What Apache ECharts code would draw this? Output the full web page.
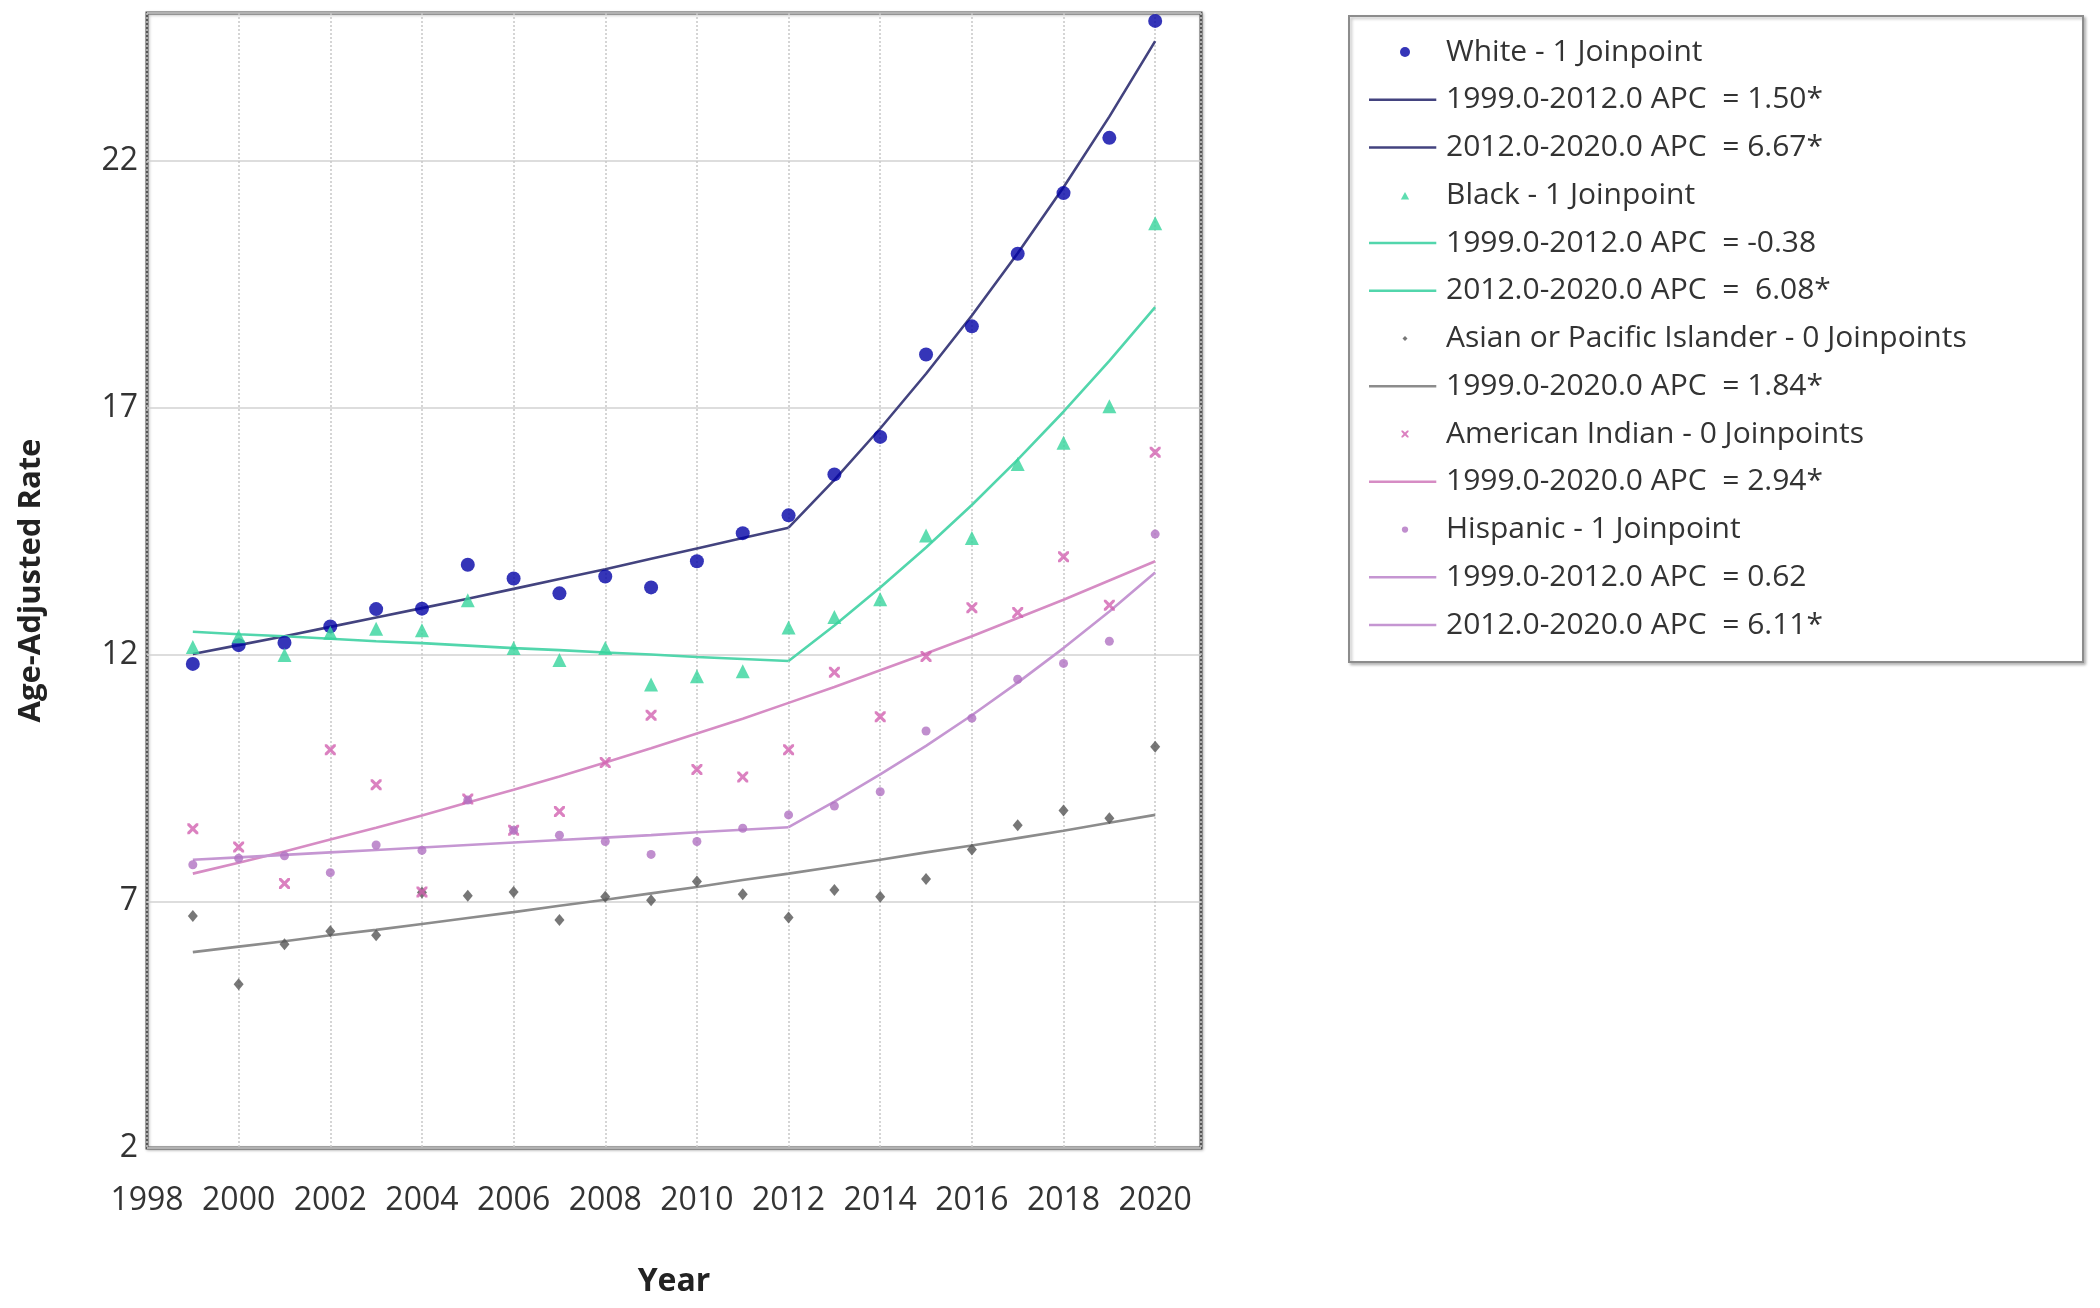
<!DOCTYPE html>
<html>
<head>
<meta charset="utf-8">
<title>Age-Adjusted Rate by race, joinpoint</title>
<style>
    html, body {margin: 0; padding: 0; background: #fff;}
    #main {width: 2100px; height: 1308px;}
</style>
</head>
<body>
<div id="main"></div>

<script src="https://cdn.jsdelivr.net/npm/echarts@6/dist/echarts.min.js"></script>
<script type="text/javascript">
    // observed rates, 1999 - 2020
    var years = [1999, 2000, 2001, 2002, 2003, 2004, 2005, 2006, 2007, 2008, 2009, 2010,
        2011, 2012, 2013, 2014, 2015, 2016, 2017, 2018, 2019, 2020];
    var whiteRate = [11.81, 12.19, 12.24, 12.57, 12.92, 12.93, 13.82, 13.54, 13.24, 13.58, 13.36, 13.89,
        14.46, 14.82, 15.65, 16.41, 18.08, 18.65, 20.12, 21.35, 22.47, 24.84];
    var blackRate = [12.15, 12.37, 11.99, 12.44, 12.52, 12.49, 13.10, 12.13, 11.89, 12.13, 11.39, 11.56,
        11.66, 12.55, 12.76, 13.12, 14.41, 14.36, 15.86, 16.29, 17.03, 20.74];
    var asianRate = [6.70, 5.32, 6.13, 6.39, 6.31, 7.18, 7.11, 7.19, 6.62, 7.09, 7.02, 7.40,
        7.14, 6.67, 7.23, 7.09, 7.45, 8.05, 8.54, 8.84, 8.68, 10.13];
    var amIndRate = [8.47, 8.10, 7.36, 10.07, 9.36, 7.19, 9.07, 8.44, 8.82, 9.81, 10.77, 9.67,
        9.52, 10.07, 11.64, 10.74, 11.96, 12.95, 12.85, 13.98, 13.00, 16.10];
    var hispRate = [7.74, 7.87, 7.92, 7.58, 8.14, 8.03, 9.05, 8.44, 8.34, 8.21, 7.95, 8.21,
        8.48, 8.75, 8.93, 9.22, 10.45, 10.71, 11.50, 11.82, 12.27, 14.44];

    // modelled (joinpoint) values per year
    var whiteFit = [12.01, 12.19, 12.37, 12.56, 12.75, 12.94, 13.13, 13.33, 13.53, 13.73, 13.94, 14.15,
        14.36, 14.57, 15.54, 16.58, 17.69, 18.87, 20.13, 21.47, 22.90, 24.43];
    var blackFit = [12.46, 12.41, 12.37, 12.32, 12.27, 12.23, 12.18, 12.13, 12.09, 12.04, 12.00, 11.95,
        11.91, 11.87, 12.59, 13.36, 14.17, 15.03, 15.95, 16.92, 17.95, 19.04];
    var asianFit = [5.97, 6.08, 6.19, 6.31, 6.42, 6.54, 6.66, 6.78, 6.91, 7.03, 7.16, 7.29,
        7.43, 7.56, 7.70, 7.84, 7.99, 8.13, 8.28, 8.43, 8.59, 8.75];
    var amIndFit = [7.56, 7.78, 8.01, 8.25, 8.49, 8.74, 9.00, 9.26, 9.53, 9.81, 10.10, 10.40,
        10.70, 11.02, 11.34, 11.68, 12.02, 12.37, 12.74, 13.11, 13.50, 13.89];
    var hispFit = [7.84, 7.89, 7.94, 7.99, 8.04, 8.09, 8.14, 8.19, 8.24, 8.29, 8.34, 8.40,
        8.45, 8.50, 9.02, 9.57, 10.15, 10.77, 11.43, 12.13, 12.87, 13.66];
    var joinYear = 2012;

    var legendNames = [
        'White - 1 Joinpoint',
        '1999.0-2012.0 APC  = 1.50*',
        '2012.0-2020.0 APC  = 6.67*',
        'Black - 1 Joinpoint',
        '1999.0-2012.0 APC  = -0.38',
        '2012.0-2020.0 APC  =  6.08*',
        'Asian or Pacific Islander - 0 Joinpoints',
        '1999.0-2020.0 APC  = 1.84*',
        'American Indian - 0 Joinpoints',
        '1999.0-2020.0 APC  = 2.94*',
        'Hispanic - 1 Joinpoint',
        '1999.0-2012.0 APC  = 0.62',
        '2012.0-2020.0 APC  = 6.11*'
    ];

    var FONT = 'Open Sans';
    var crossPath = 'path://M0,0L2,0L5,3L8,0L10,0L10,2L7,5L10,8L10,10L8,10L5,7L2,10L0,10L0,8L3,5L0,2Z';

    // legend icons (extra moveTo points only pad the box so the mark stays small)
    var lineIcon = 'path://M0,0H100V3.5H0ZM107,0';
    var legendIcons = [
        'circle', lineIcon, lineIcon,
        'path://M-1,-1M11,11M5,1L10,10L0,10Z', lineIcon, lineIcon,
        'path://M-5,-5M15,15M5,0L10,5L5,10L0,5Z', lineIcon,
        'path://M-2,-2M12,12M0,0L2,0L5,3L8,0L10,0L10,2L7,5L10,8L10,10L8,10L5,7L2,10L0,10L0,8L3,5L0,2Z', lineIcon,
        'path://M-3,-3M13,13M5,0A5,5 0 1,1 5,10A5,5 0 1,1 5,0Z', lineIcon, lineIcon
    ];

    function pairs(vals, from, to) {
        var out = [];
        for (var i = 0; i < years.length; i++) {
            if (years[i] >= from && years[i] <= to) out.push([years[i], vals[i]]);
        }
        return out;
    }

    function dots(name, vals, symbol, size, color) {
        return {
            name: name, type: 'scatter', z: 4,
            symbol: symbol, symbolSize: size,
            itemStyle: {color: color},
            data: pairs(vals, 1999, 2020)
        };
    }

    function fit(name, vals, from, to, color) {
        return {
            name: name, type: 'line', z: 3,
            symbol: 'none', smooth: false,
            lineStyle: {color: color, width: 2.6},
            itemStyle: {color: color},
            data: pairs(vals, from, to)
        };
    }

    var legendData = legendNames.map(function (n, i) {
        return {name: n, icon: legendIcons[i]};
    });

    var myChart = echarts.init(document.getElementById('main'));

    myChart.setOption({
        animation: false,
        backgroundColor: '#fff',
        grid: {
            left: 147, right: 899, top: 13, bottom: 160,
            show: true, borderColor: '#555', borderWidth: 3,
            backgroundColor: '#fff',
            shadowColor: 'rgba(0,0,0,0.25)', shadowBlur: 3, shadowOffsetX: 1, shadowOffsetY: 1
        },
        graphic: [{
            type: 'rect', z: -1,
            shape: {x: 1349, y: 16, width: 734, height: 646},
            style: {fill: '#fff', stroke: '#8c8c8c', lineWidth: 2,
                shadowColor: 'rgba(0,0,0,0.25)', shadowBlur: 3, shadowOffsetX: 2, shadowOffsetY: 2}
        }],
        legend: {
            orient: 'vertical',
            left: 1369, top: 37,
            padding: 0,
            itemWidth: 72, itemHeight: 10, itemGap: 17.75,
            selectedMode: false,
            textStyle: {fontFamily: FONT, fontSize: 30, color: '#333', lineHeight: 30},
            data: legendData
        },
        xAxis: {
            type: 'value',
            min: 1998, max: 2021, interval: 2,
            name: 'Year',
            nameLocation: 'middle', nameGap: 118,
            nameTextStyle: {fontFamily: FONT, fontSize: 32, fontWeight: 'bold', color: '#222'},
            axisLine: {show: false},
            axisTick: {show: false},
            axisLabel: {
                margin: 37, fontFamily: FONT, fontSize: 32, color: '#333',
                showMaxLabel: false,
                formatter: function (v) { return String(v); }
            },
            splitLine: {show: true, lineStyle: {color: '#c8c8c8', width: 1.5, type: [2, 2]}}
        },
        yAxis: {
            type: 'value',
            min: 2, max: 25, interval: 5,
            name: 'Age-Adjusted Rate',
            nameLocation: 'middle', nameGap: 100,
            nameTextStyle: {fontFamily: FONT, fontSize: 31, fontWeight: 'bold', color: '#222'},
            axisLine: {show: false},
            axisTick: {show: false},
            axisLabel: {
                margin: 9, fontFamily: FONT, fontSize: 32, color: '#333',
                showMaxLabel: false
            },
            splitLine: {show: true, lineStyle: {color: '#d2d2d2', width: 1.5}}
        },
        series: [
            dots(legendNames[0], whiteRate, 'circle', 14, '#0303a6'),
            fit(legendNames[1], whiteFit, 1999, joinYear, '#43437f'),
            fit(legendNames[2], whiteFit, joinYear, 2020, '#43437f'),
            dots(legendNames[3], blackRate, 'triangle', 14, '#36d49c'),
            fit(legendNames[4], blackFit, 1999, joinYear, '#52d6ac'),
            fit(legendNames[5], blackFit, joinYear, 2020, '#52d6ac'),
            dots(legendNames[6], asianRate, 'diamond', [10, 12], '#555'),
            fit(legendNames[7], asianFit, 1999, 2020, '#8c8c8c'),
            dots(legendNames[8], amIndRate, crossPath, 11, '#d262b0'),
            fit(legendNames[9], amIndFit, 1999, 2020, '#d68cc4'),
            dots(legendNames[10], hispRate, 'circle', 9, '#b072c2'),
            fit(legendNames[11], hispFit, 1999, joinYear, '#c596d2'),
            fit(legendNames[12], hispFit, joinYear, 2020, '#c596d2')
        ]
    });
</script>
</body>
</html>
